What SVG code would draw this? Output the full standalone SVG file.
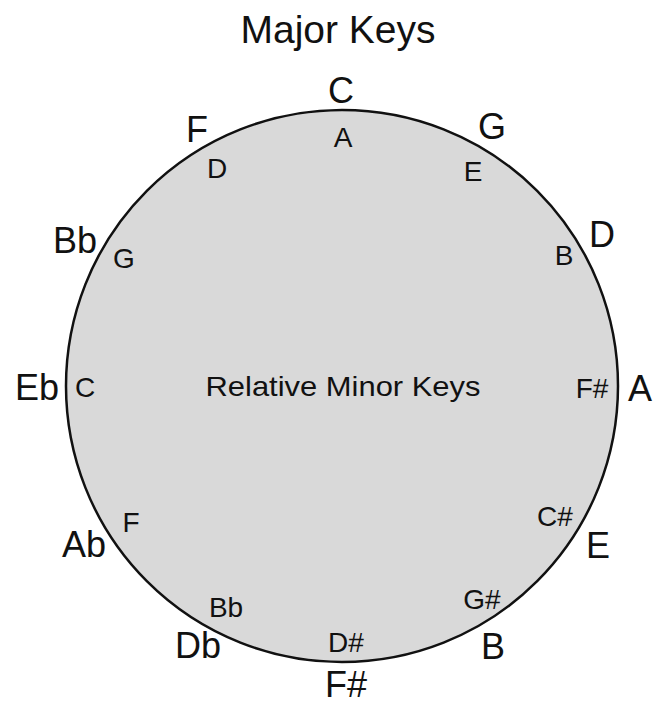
<svg xmlns="http://www.w3.org/2000/svg" width="656" height="705" viewBox="0 0 656 705">
  <style>
    text { font-family: "Liberation Sans", Arial, sans-serif; fill: #111; text-anchor: middle; }
    .title { font-size: 39px; }
    .major { font-size: 36px; }
    .minor { font-size: 28px; }
    .center { font-size: 28px; }
    .wheel { fill: #d9d9d9; stroke: #111; stroke-width: 2.5; }
  </style>
  <rect width="656" height="705" fill="#ffffff"/>

  <text class="title" x="338" y="43">Major Keys</text>

  <!-- circle of fifths -->
  <g id="wheel">
    <circle class="wheel" cx="342" cy="386" r="276"/>
    <text class="center" x="343" y="396" textLength="275" lengthAdjust="spacingAndGlyphs">Relative Minor Keys</text>
  </g>

  <!-- major keys outside the circle -->
  <g id="major-keys">
    <text class="major" x="341" y="103">C</text>
    <text class="major" x="492" y="139">G</text>
    <text class="major" x="602" y="247">D</text>
    <text class="major" x="640" y="401">A</text>
    <text class="major" x="598" y="558">E</text>
    <text class="major" x="493" y="659">B</text>
    <text class="major" x="346" y="697">F#</text>
    <text class="major" x="198" y="658">Db</text>
    <text class="major" x="84" y="557">Ab</text>
    <text class="major" x="37" y="400">Eb</text>
    <text class="major" x="75" y="253">Bb</text>
    <text class="major" x="197" y="142">F</text>
  </g>

  <!-- relative minor keys inside the circle -->
  <g id="minor-keys">
    <text class="minor" x="343" y="147">A</text>
    <text class="minor" x="473" y="181">E</text>
    <text class="minor" x="564" y="265">B</text>
    <text class="minor" x="592" y="398">F#</text>
    <text class="minor" x="555" y="526">C#</text>
    <text class="minor" x="482" y="609">G#</text>
    <text class="minor" x="346" y="652">D#</text>
    <text class="minor" x="226" y="617">Bb</text>
    <text class="minor" x="131" y="532">F</text>
    <text class="minor" x="85" y="397">C</text>
    <text class="minor" x="124" y="268">G</text>
    <text class="minor" x="217" y="178">D</text>
  </g>
</svg>
